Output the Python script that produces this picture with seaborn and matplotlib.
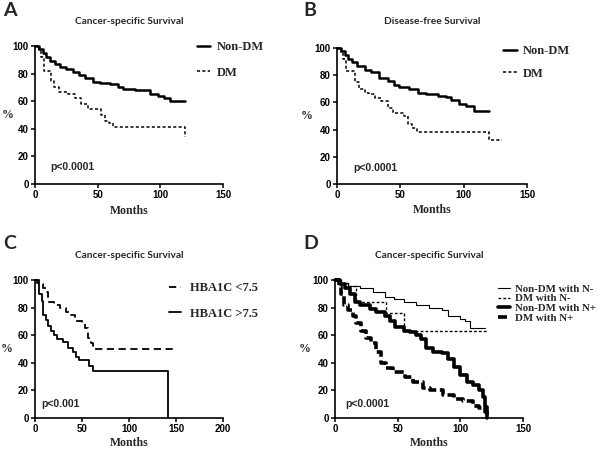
import matplotlib
matplotlib.use("Agg")
import matplotlib.pyplot as plt
import seaborn as sns
import pandas as pd

# ---------------- data ----------------
# Panel A: Cancer-specific survival, Non-DM vs DM
a_nondm_t = [0, 3, 6, 9, 12, 16, 20, 25, 30, 35, 40, 46, 52, 60, 66, 70, 80, 89, 92, 98, 103, 108, 120]
a_nondm_s = [100, 98, 95, 92, 89, 87, 85, 83, 81, 79, 77, 74, 73, 72.5, 70, 69, 68, 68, 65, 64, 62, 60, 60]
a_dm_t = [0, 3, 5, 7, 13, 15, 19, 26, 32, 37, 42, 53, 56, 59, 62, 120]
a_dm_s = [100, 97, 92, 82, 75, 70, 67, 65, 62, 58, 54, 50, 46, 44, 41, 34]

# Panel B: Disease-free survival, Non-DM vs DM
b_nondm_t = [0, 3, 6, 9, 12, 16, 22, 27, 33, 40, 45, 49, 57, 64, 70, 80, 86, 90, 96, 102, 108, 120]
b_nondm_s = [100, 98, 95, 92, 90, 87, 84, 82, 78, 76, 73, 71.5, 70, 67, 66, 65, 64, 62, 59, 57, 54, 54]
b_dm_t = [0, 3, 5, 7, 14, 17, 22, 25, 30, 35, 40, 44, 53, 56, 59, 63, 120, 130]
b_dm_s = [100, 97, 92, 83, 75, 70, 67, 66, 63, 61, 56, 52, 50, 44, 41, 38, 32, 32]

# Panel C: Cancer-specific survival by HbA1c
c_low_t = [0, 4, 8, 12, 14, 20, 27, 33, 37, 43, 50, 53, 56, 60, 62, 147]
c_low_s = [100, 97, 94, 91, 84, 82, 80, 77, 75, 70, 69, 65, 58, 54, 50, 50]
c_high_t = [0, 2, 4, 7, 8, 12, 14, 17, 20, 23, 30, 35, 40, 44, 47, 55, 57, 62, 142]
c_high_s = [100, 98, 90, 85, 75, 71, 67, 63, 60, 57, 55, 51, 48, 44, 42, 42, 38, 34, 0]

# Panel D: Cancer-specific survival by DM and nodal status
d_nondm_nneg_t = [0, 5, 10, 20, 30, 40, 47, 55, 65, 75, 85, 90, 100, 104, 108, 120]
d_nondm_nneg_s = [100, 98, 96, 94, 91, 88, 86, 84, 82, 80, 78, 74, 72, 70, 65, 65]
d_dm_nneg_t = [0, 5, 10, 17, 41, 55, 121]
d_dm_nneg_s = [100, 98, 96, 84, 76, 63, 63]
d_nondm_npos_t = [0, 4, 8, 12, 16, 20, 28, 33, 40, 44, 48, 55, 60, 65, 69, 73, 78, 85, 90, 95, 100, 105, 110, 115, 118, 120, 121]
d_nondm_npos_s = [100, 97, 94, 90, 84, 82, 79, 77, 74, 70, 66, 63, 62, 60, 57, 51, 48, 47, 43, 37, 31, 26, 24, 20, 15, 8, 0]
d_dm_npos_t = [0, 3, 5, 7, 10, 14, 17, 21, 25, 29, 33, 37, 41, 46, 52, 56, 62, 70, 76, 86, 95, 102, 110, 115, 120, 121]
d_dm_npos_s = [100, 95, 90, 82, 78, 74, 69, 63, 58, 54, 48, 40, 36, 33, 33, 30, 26, 22, 20, 17, 14, 12, 9, 7, 4, 0]

panel_letters = ["A", "B", "C", "D"]
titles = ["Cancer-specific Survival", "Disease-free Survival",
          "Cancer-specific Survival", "Cancer-specific Survival"]
pvalues = ["p<0.0001", "p<0.0001", "p<0.001", "p<0.0001"]
xmax = [150, 150, 200, 150]
xticks = [[0, 50, 100, 150], [0, 50, 100, 150], [0, 50, 100, 150, 200], [0, 50, 100, 150]]
yticks = [0, 20, 40, 60, 80, 100]

# ---------------- figure ----------------
sns.set_style("ticks")
plt.rcParams["font.family"] = ["Liberation Sans", "DejaVu Sans"]

W, H = 600, 449
fig = plt.figure(figsize=(W / 100, H / 100), dpi=100)


def px_axes(x0, y_top, x1, y_bot):
    return fig.add_axes([x0 / W, 1 - y_bot / H, (x1 - x0) / W, (y_bot - y_top) / H])


axes = [px_axes(35, 46, 223, 184), px_axes(337, 48, 527, 184),
        px_axes(35, 280, 223, 418), px_axes(335, 280, 523, 418)]

series = [
    [("Non-DM", a_nondm_t, a_nondm_s, dict(color="black", lw=1.8, linestyle="-")),
     ("DM", a_dm_t, a_dm_s, dict(color="black", lw=1.1, linestyle=(0, (2, 1.5))))],
    [("Non-DM", b_nondm_t, b_nondm_s, dict(color="black", lw=1.8, linestyle="-")),
     ("DM", b_dm_t, b_dm_s, dict(color="black", lw=1.1, linestyle=(0, (2, 1.5))))],
    [("HBA1C <7.5", c_low_t, c_low_s, dict(color="black", lw=1.3, linestyle=(0, (4, 2.5)))),
     ("HBA1C >7.5", c_high_t, c_high_s, dict(color="black", lw=1.3, linestyle="-"))],
    [("Non-DM with N-", d_nondm_nneg_t, d_nondm_nneg_s, dict(color="black", lw=0.8, linestyle="-")),
     ("DM with N-", d_dm_nneg_t, d_dm_nneg_s, dict(color="black", lw=1.0, linestyle=(0, (2, 1.5)))),
     ("Non-DM with N+", d_nondm_npos_t, d_nondm_npos_s, dict(color="black", lw=2.6, linestyle="-")),
     ("DM with N+", d_dm_npos_t, d_dm_npos_s, dict(color="black", lw=2.6, linestyle=(0, (2.5, 1.0))))],
]

# legend anchors (figure px of upper-left), label spacing, font size, handle length
legend_cfg = [
    dict(xy=(197, 41), spacing=1.1, fs=9, hl=1.0, tp=0.6),
    dict(xy=(503, 45), spacing=0.85, fs=9, hl=1.1, tp=0.5),
    dict(xy=(169, 282), spacing=1.1, fs=9, hl=0.95, tp=0.75),
    dict(xy=(498, 284), spacing=0.02, fs=7.8, hl=1.1, tp=0.5),
]
ylabel_x = [-0.145, -0.16, -0.15, -0.16]
xlabel_y = [-0.15, -0.15, -0.135, -0.135]
ptext_pos = [(0.08, 0.12), (0.085, 0.115), (0.036, 0.105), (0.053, 0.105)]
title_y_px = [22, 22, 255, 255]
letter_pos = [(3, 10), (303, 10), (3, 243), (303, 243)]

for i, ax in enumerate(axes):
    for label, t, s, style in series[i]:
        df = pd.DataFrame({"Months": t, "Survival": s})
        sns.lineplot(data=df, x="Months", y="Survival", ax=ax, estimator=None, sort=False,
                     drawstyle="steps-post", label=label, clip_on=False, **style)
    ax.set_xlim(0, xmax[i])
    ax.set_ylim(0, 100)
    ax.set_xticks(xticks[i])
    ax.set_yticks(yticks)
    ax.tick_params(axis="both", direction="out", length=3, width=1.1, pad=1.5,
                   labelsize=7, colors="black")
    for lab in ax.get_xticklabels() + ax.get_yticklabels():
        lab.set_fontweight("bold")
    sns.despine(ax=ax)
    for sp in ("left", "bottom"):
        ax.spines[sp].set_linewidth(1.2)
        ax.spines[sp].set_color("black")
    ax.set_xlabel("Months", family="Liberation Serif", fontweight="bold", fontsize=8.5)
    ax.xaxis.set_label_coords(0.5, xlabel_y[i])
    ax.set_ylabel("%", family="Liberation Serif", fontweight="bold", fontsize=8.5,
                  rotation=0, va="center", ha="center")
    ax.yaxis.set_label_coords(ylabel_x[i], 0.5)
    ax.text(ptext_pos[i][0], ptext_pos[i][1], pvalues[i], transform=ax.transAxes,
            fontsize=7.5, fontweight="bold", ha="left", va="center")
    # legend
    cfg = legend_cfg[i]
    ax.legend(loc="upper left", bbox_to_anchor=(cfg["xy"][0] / W, 1 - cfg["xy"][1] / H),
              bbox_transform=fig.transFigure, frameon=False, borderpad=0,
              borderaxespad=0, handlelength=cfg["hl"], handletextpad=cfg["tp"],
              labelspacing=cfg["spacing"],
              prop=dict(family="Liberation Serif", weight="bold", size=cfg["fs"]))
    # titles and panel letters
    cx = (ax.get_position().x0 + ax.get_position().x1) / 2
    fig.text(cx, 1 - title_y_px[i] / H, titles[i], ha="center", va="center",
             family="Lato", fontweight="bold", fontsize=7.3)
    fig.text(letter_pos[i][0] / W, 1 - letter_pos[i][1] / H, panel_letters[i], ha="left",
             va="center", family="Lato", fontweight="bold", fontsize=14)

fig.savefig("out.png", dpi=100)
